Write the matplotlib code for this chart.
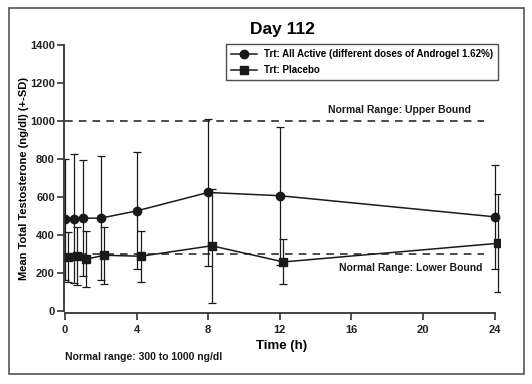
import numpy as np
import matplotlib.pyplot as plt
from matplotlib.patches import Rectangle
from matplotlib.lines import Line2D

plt.rcParams['font.family'] = ['Liberation Sans', 'DejaVu Sans']
plt.rcParams['font.weight'] = 'bold'

# data (mean and SD)
active_time = [0, 0.5, 1, 2, 4, 8, 12, 24]
active_mean = [483, 488, 490, 490, 528, 625, 608, 497]
active_sd = [317, 337, 305, 325, 307, 385, 362, 273]

placebo_time = [0.2, 0.7, 1.2, 2.2, 4.25, 8.2, 12.2, 24.2]
placebo_mean = [285, 293, 275, 295, 290, 345, 260, 358]
placebo_sd = [130, 152, 145, 150, 135, 300, 118, 257]

upper_bound = 1000
lower_bound = 300

fig = plt.figure(figsize=(5.32, 3.84), dpi=100)
ax = fig.add_axes([0.120, 0.185, 0.82, 0.698])

col = "#1a1a1a"
ax.errorbar(active_time, active_mean, yerr=active_sd, color=col, marker="o",
            markersize=6, lw=1.1, elinewidth=0.9, capsize=3, capthick=0.9)
ax.errorbar(placebo_time, placebo_mean, yerr=placebo_sd, color=col, marker="s",
            markersize=5.5, lw=1.1, elinewidth=0.9, capsize=3, capthick=0.9)

ax.plot([0, 23.4], [upper_bound, upper_bound], color=col, ls=(0, (5, 4)), lw=1.1)
ax.plot([0, 23.4], [lower_bound, lower_bound], color=col, ls=(0, (5, 4)), lw=1.1)
ax.text(22.7, upper_bound + 30, "Normal Range: Upper Bound", ha="right", va="bottom",
        fontsize=7.5, fontweight="bold", color=col)
ax.text(23.3, lower_bound - 45, "Normal Range: Lower Bound", ha="right", va="top",
        fontsize=7.5, fontweight="bold", color=col)

ax.set_xlim(-0.06, 24.3)
ax.set_ylim(-8, 1400)
ax.set_xticks([0, 4, 8, 12, 16, 20, 24])
ax.set_yticks(range(0, 1401, 200))
ax.spines["top"].set_visible(False)
ax.spines["right"].set_visible(False)
ax.spines["left"].set_bounds(0, 1400)
ax.spines["bottom"].set_bounds(0, 24)
for s in ["left", "bottom"]:
    ax.spines[s].set_linewidth(1.3)
    ax.spines[s].set_color("#333333")
ax.tick_params(direction="out", length=5, width=1.1, labelsize=8, colors="#222222")
ax.tick_params(axis="y", pad=1.5)

ax.set_xlabel("Time (h)", fontsize=9.5, fontweight="bold")
ax.xaxis.set_label_coords(0.5, -0.125)
ax.xaxis.label.set_va("center")
ax.set_ylabel("Mean Total Testosterone (ng/dl) (+-SD)", fontsize=8, fontweight="bold")
ax.yaxis.set_label_coords(-0.092, 0.5)
ax.yaxis.label.set_va("center")

ax.set_title("Day 112", fontsize=12.5, fontweight="bold", pad=8)

# legend handles: plain line + marker, no error bar
handles = [Line2D([], [], color=col, marker="o", markersize=6, lw=1.1),
           Line2D([], [], color=col, marker="s", markersize=5.5, lw=1.1)]
labels = ["Trt: All Active (different doses of Androgel 1.62%)", "Trt: Placebo"]
leg = ax.legend(handles, labels, loc="upper right", bbox_to_anchor=(1.007, 1.02),
                fontsize=7, frameon=True, fancybox=False, edgecolor="#222222",
                handlelength=2.6, borderpad=0.5, labelspacing=0.6)
leg.get_frame().set_linewidth(1.0)

fig.text(0.122, 0.07, "Normal range: 300 to 1000 ng/dl", fontsize=7.5,
         fontweight="bold", color=col, va="center")

fig.patches.append(Rectangle((0.017, 0.025), 0.968, 0.955, transform=fig.transFigure,
                             fill=False, edgecolor="#555555", lw=1.2))

fig.savefig("out.png", dpi=100)
